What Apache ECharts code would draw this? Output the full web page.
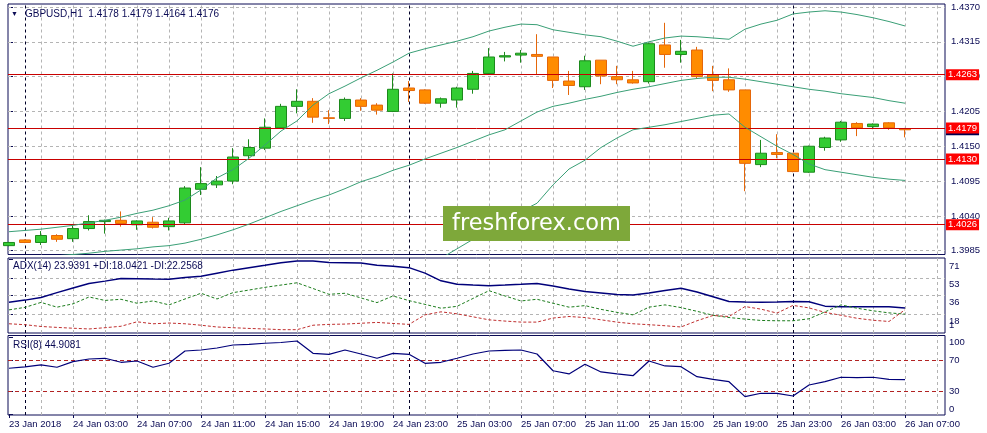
<!DOCTYPE html>
<html><head><meta charset="utf-8">
<script src="https://cdn.jsdelivr.net/npm/echarts@6/dist/echarts.min.js"></script>
<style>html,body{margin:0;padding:0;background:#fff}#c{width:987px;height:433px}</style>
</head><body><div id="c"></div>
<script>
const symbolName = 'GBPUSD,H1';
const xTickIndex = [0,4,8,12,16,20,24,28,32,36,40,44,48,52,56];
const xTickLabels = ['23 Jan 2018','24 Jan 03:00','24 Jan 07:00','24 Jan 11:00','24 Jan 15:00','24 Jan 19:00','24 Jan 23:00','25 Jan 03:00','25 Jan 07:00','25 Jan 11:00','25 Jan 15:00','25 Jan 19:00','25 Jan 23:00','26 Jan 03:00','26 Jan 07:00'];
const separatorIndex = [1,25,49];
const gridXIndex = [2,4,6,8,10,12,14,16,18,20,22,24,26,28,30,32,34,36,38,40,42,44,46,48,50,52,54,56,58];

const opens = [1.3993,1.4002,1.3998,1.4009,1.4004,1.4020,1.4031,1.4033,1.4026,1.4030,
 1.4023,1.4029,1.4082,1.4089,1.4095,1.4135,1.4147,1.4179,1.4213,1.4221,
 1.4195,1.4194,1.4223,1.4215,1.4205,1.4242,1.4239,1.4218,1.4223,1.4240,
 1.4265,1.4291,1.4294,1.4295,1.4291,1.4253,1.4244,1.4286,1.4260,1.4255,
 1.4252,1.4310,1.4295,1.4302,1.4263,1.4255,1.4239,1.4121,1.4140,1.4139,
 1.4109,1.4148,1.4160,1.4186,1.4181,1.4187,1.4178];
const closes = [1.3998,1.3998,1.4009,1.4003,1.4020,1.4031,1.4033,1.4028,1.4032,1.4022,
 1.4032,1.4084,1.4091,1.4095,1.4133,1.4148,1.4180,1.4213,1.4221,1.4196,
 1.4194,1.4224,1.4213,1.4207,1.4240,1.4238,1.4218,1.4225,1.4242,1.4265,
 1.4291,1.4293,1.4297,1.4292,1.4254,1.4246,1.4285,1.4261,1.4255,1.4250,
 1.4312,1.4295,1.4300,1.4260,1.4254,1.4239,1.4123,1.4139,1.4137,1.4110,
 1.4150,1.4163,1.4188,1.4179,1.4185,1.4179,1.4176];
const lows = [1.3992,1.3997,1.3994,1.3999,1.3999,1.4017,1.4012,1.4023,1.4018,1.4020,
 1.4017,1.4026,1.4073,1.4084,1.4090,1.4130,1.4144,1.4178,1.4202,1.4187,
 1.4185,1.4190,1.4206,1.4200,1.4204,1.4220,1.4217,1.4211,1.4211,1.4233,
 1.4264,1.4284,1.4282,1.4264,1.4242,1.4231,1.4239,1.4248,1.4248,1.4249,
 1.4249,1.4274,1.4282,1.4257,1.4237,1.4236,1.4079,1.4117,1.4131,1.4109,
 1.4108,1.4143,1.4157,1.4166,1.4177,1.4176,1.4164];
const highs = [1.3999,1.4003,1.4016,1.4011,1.4024,1.4041,1.4034,1.4047,1.4033,1.4038,
 1.4037,1.4087,1.4117,1.4103,1.4147,1.4161,1.4194,1.4217,1.4240,1.4226,
 1.4207,1.4227,1.4226,1.4218,1.4265,1.4253,1.4240,1.4227,1.4244,1.4269,
 1.4305,1.4299,1.4302,1.4327,1.4291,1.4269,1.4293,1.4286,1.4277,1.4269,
 1.4314,1.4345,1.4318,1.4307,1.4277,1.4273,1.4239,1.4160,1.4169,1.4139,
 1.4151,1.4165,1.4190,1.4188,1.4186,1.4188,1.4179];

const bbUpper = [1.4015,1.4017,1.4019,1.4022,1.4025,1.4029,1.4033,1.4038,1.4044,1.4049,
 1.4056,1.4065,1.4081,1.4100,1.4113,1.4131,1.4152,1.4174,1.4190,1.4215,
 1.4233,1.4245,1.4258,1.4270,1.4283,1.4297,1.4304,1.4310,1.4316,1.4323,
 1.4332,1.4338,1.4343,1.4342,1.4334,1.4330,1.4326,1.4323,1.4316,1.4308,
 1.4315,1.4321,1.4324,1.4323,1.4321,1.4319,1.4335,1.4343,1.4349,1.4359,
 1.4362,1.4364,1.4362,1.4358,1.4353,1.4347,1.4340];
const bbMiddle = [1.3972,1.3973,1.3975,1.3977,1.3979,1.3981,1.3984,1.3986,1.3988,1.3991,
 1.3993,1.3997,1.4003,1.4010,1.4018,1.4027,1.4037,1.4047,1.4056,1.4065,
 1.4073,1.4083,1.4094,1.4102,1.4112,1.4120,1.4130,1.4139,1.4148,1.4158,
 1.4168,1.4176,1.4190,1.4204,1.4213,1.4218,1.4224,1.4229,1.4235,1.4240,
 1.4244,1.4249,1.4254,1.4257,1.4259,1.4259,1.4256,1.4252,1.4248,1.4244,
 1.4240,1.4237,1.4233,1.4230,1.4227,1.4222,1.4218];
const bbLower = [null,null,null,null,null,null,null,null,null,null,
 null,null,null,null,null,null,null,null,null,null,
 null,null,null,null,null,null,1.3958,1.3973,1.3988,1.4003,
 1.4018,1.4033,1.4047,1.4060,1.4089,1.4114,1.4128,1.4148,1.4163,1.4176,
 1.4180,1.4184,1.4189,1.4194,1.4199,1.4201,1.4180,1.4165,1.4150,1.4137,
 1.4122,1.4113,1.4109,1.4105,1.4101,1.4098,1.4096];

const adx = [29.5,31.5,34.1,38.7,43.2,47.5,49.8,52.4,52.2,51.8,
 51.5,53.2,54.6,57.5,60.4,62.8,65.1,67.5,69.3,69.3,
 67.7,67.5,67.3,65.1,64.2,62.8,57.5,50.1,46.7,46.0,
 45.4,46.0,46.7,47.6,45.1,42.2,39.8,38.4,36.9,36.5,
 38.4,40.8,42.9,39.3,34.8,30.2,29.8,29.5,29.8,30.2,
 30.0,25.7,25.2,25.0,25.0,25.0,23.9391];
const plusDI = [22.1,24.5,29.3,24.7,27.9,34.5,31.2,32.3,28.5,30.7,
 26.9,32.6,38.1,32.6,38.7,41.2,43.8,46.0,48.2,42.7,
 37.1,38.1,33.6,29.1,35.5,31.0,27.4,23.7,25.5,33.1,
 40.6,35.5,30.7,32.3,28.5,24.7,26.2,22.6,19.7,17.3,
 24.7,26.9,24.3,20.7,16.9,14.7,13.2,11.9,11.6,11.6,
 13.5,20.2,26.9,23.7,21.2,19.2,18.0421];
const minusDI = [8.7,7.8,6.1,5.2,4.4,3.7,4.9,6.3,10.6,8.7,
 9.4,8.7,7.3,5.6,4.9,4.2,3.7,3.0,3.0,7.3,
 8.1,8.4,9.2,10.0,9.0,8.1,17.3,20.2,18.3,15.4,
 12.5,11.3,10.3,10.3,14.2,15.7,14.7,12.5,10.3,8.7,
 7.8,6.8,5.6,11.6,16.7,15.7,25.3,22.8,19.0,26.4,
 24.0,19.7,16.9,14.0,12.1,10.9,22.2568];
const rsi = [59.6,61.5,63.9,60.9,68.2,71.7,72.6,67.4,69.1,60.9,
 66.1,82.1,83.4,86.0,89.9,90.8,92.2,93.2,95.1,79.1,
 77.8,83.4,78.2,72.6,79.1,77.8,66.1,67.4,72.6,78.2,
 82.1,82.8,83.4,78.2,56.4,52.2,64.8,54.8,52.2,49.9,
 69.1,62.6,61.7,48.6,45.2,42.1,22.6,27.0,27.0,23.5,
 37.8,42.1,47.9,47.3,47.9,45.2,44.9081];

const priceTicks = [1.3985,1.4040,1.4095,1.4150,1.4205,1.4260,1.4315,1.4370];
const priceLevels = [1.4263,1.4179,1.4130,1.4026];
const adxTicks = [18,36,53,71];
const adxMinTick = [1];
const adxGridLevels = [18,36,53];
const rsiTicks = [0,30,70,100];
const rsiLevels = [30,70];

const NAVY = '#0b0b55';
const FONT = 'Liberation Sans';
const last = opens.length - 1;
const bidPrice = closes[last];

const chart = echarts.init(document.getElementById('c'), null, {renderer:'canvas'});
const xy = arr => arr.map((v,i) => [i, v]);
const dash = {color:'#b4b4b4', type:[3,3], width:1};
const sepStyle = {color:'#000028', type:[3,3], width:1};

function gridSeries(k, hVals) {
  const data = [];
  hVals.forEach(v => data.push({yAxis:v, lineStyle:dash}));
  gridXIndex.forEach(v => data.push({xAxis:v, lineStyle:dash}));
  separatorIndex.forEach(v => data.push({xAxis:v, lineStyle:sepStyle}));
  return {type:'line', xAxisIndex:k, yAxisIndex:k, data:[], z:1, silent:true,
    markLine:{silent:true, animation:false, precision:6, symbol:['none','none'], label:{show:false}, z:1, data}};
}

function xAxisDef(k, showLabels) {
  return {type:'value', gridIndex:k, min:-0.0625, max:58.5,
    axisLine:{show:false}, splitLine:{show:false},
    axisTick:{show:showLabels, customValues:xTickIndex, length:4, lineStyle:{color:NAVY}},
    axisLabel:{show:showLabels, customValues:xTickIndex, align:'left', margin:4,
      fontFamily:FONT, fontSize:9.5, color:NAVY,
      formatter: v => { const k2 = xTickIndex.indexOf(Math.round(v)); return k2 >= 0 ? xTickLabels[k2] : ''; }}};
}

const richBase = {fontFamily:FONT, fontSize:9.5, color:NAVY};

const option = {
  animation:false,
  backgroundColor:'#ffffff',
  grid:[
    {left:8, top:4, width:937, height:250.5, show:true, borderColor:NAVY, borderWidth:1, backgroundColor:'#fff'},
    {left:8, top:258, width:937, height:75, show:true, borderColor:NAVY, borderWidth:1, backgroundColor:'#fff'},
    {left:8, top:335.5, width:937, height:79.5, show:true, borderColor:NAVY, borderWidth:1, backgroundColor:'#fff'}
  ],
  xAxis:[xAxisDef(0,false), xAxisDef(1,false), xAxisDef(2,true)],
  yAxis:[
    {type:'value', gridIndex:0, position:'right', min:1.3979, max:1.43747,
      axisLine:{show:false}, splitLine:{show:false},
      axisTick:{show:true, customValues:priceTicks, length:4, lineStyle:{color:NAVY}},
      axisLabel:{customValues:priceTicks, margin:6, hideOverlap:false, showMinLabel:true, showMaxLabel:true,
        fontFamily:FONT, fontSize:9.5, color:NAVY, formatter: v => Number(v).toFixed(4)}},
    {type:'value', gridIndex:1, position:'right', min:-0.2, max:72.1,
      axisLine:{show:false}, splitLine:{show:false},
      axisTick:{show:true, customValues:adxTicks, length:4, lineStyle:{color:NAVY}},
      axisLabel:{customValues:adxTicks, margin:4, hideOverlap:false, showMinLabel:true, showMaxLabel:true,
        fontFamily:FONT, fontSize:9.5, color:NAVY,
        formatter: v => '{hi|' + v + '}',
        rich:{hi:Object.assign({padding:[14,0,0,0]}, richBase)}}},
    {type:'value', gridIndex:2, position:'right', min:-1.3, max:102.3,
      axisLine:{show:false}, splitLine:{show:false},
      axisTick:{show:true, customValues:rsiTicks, length:4, lineStyle:{color:NAVY}},
      axisLabel:{customValues:rsiTicks, margin:4, hideOverlap:false, showMinLabel:true, showMaxLabel:true,
        fontFamily:FONT, fontSize:9.5, color:NAVY,
        formatter: v => v === 100 ? '{d|100}' : (v === 0 ? '{u|0}' : '{n|' + v + '}'),
        rich:{d:Object.assign({padding:[10,0,0,0]}, richBase), u:Object.assign({padding:[0,0,10,0]}, richBase), n:richBase}}},
    {type:'value', gridIndex:1, position:'right', min:-0.2, max:72.1,
      axisLine:{show:false}, splitLine:{show:false},
      axisTick:{show:false, customValues:adxMinTick},
      axisLabel:{customValues:adxMinTick, margin:4, showMinLabel:true, showMaxLabel:true,
        fontFamily:FONT, fontSize:9.5, color:NAVY,
        formatter: v => '{lo|' + v + '}',
        rich:{lo:Object.assign({padding:[0,0,12,0]}, richBase)}}}
  ],
  series:[
    gridSeries(0, priceTicks),
    gridSeries(1, adxGridLevels),
    gridSeries(2, []),
    {type:'candlestick', xAxisIndex:0, yAxisIndex:0, z:3, clip:true, barWidth:11,
      data: opens.map((o,i) => [i, o, closes[i], lows[i], highs[i]]),
      itemStyle:{color:'#33cc33', color0:'#ff8c00', borderColor:'#1c8a1c', borderColor0:'#e5670a', borderWidth:1}},
    {type:'line', name:'bid', xAxisIndex:0, yAxisIndex:0, data:[], z:4, silent:true,
      markLine:{silent:true, animation:false, precision:4, symbol:['none','none'], z:4,
        lineStyle:{color:'rgba(0,0,0,0)', width:0.1},
        label:{show:true, position:'end', distance:1, fontFamily:FONT, fontSize:9.5, color:'#fff',
          padding:[1,2,0,2], backgroundColor:'#000050', formatter: p => Number(p.value).toFixed(4)},
        data:[{yAxis:bidPrice}]}},
    {type:'line', name:'levels', xAxisIndex:0, yAxisIndex:0, data:[], z:4, silent:true,
      markLine:{silent:true, animation:false, precision:4, symbol:['none','none'], z:4,
        lineStyle:{color:'#c80000', width:1, type:'solid'},
        label:{show:true, position:'end', distance:1, fontFamily:FONT, fontSize:9.5, color:'#fff',
          padding:[1,2,0,2], backgroundColor:'#ff0000', formatter: p => Number(p.value).toFixed(4)},
        data: priceLevels.map(v => ({yAxis:v}))}},
    {type:'line', name:'BB upper', xAxisIndex:0, yAxisIndex:0, z:5, data:xy(bbUpper), showSymbol:false, symbol:'none', lineStyle:{color:'#3a9f76', width:1}},
    {type:'line', name:'BB middle', xAxisIndex:0, yAxisIndex:0, z:5, data:xy(bbMiddle), showSymbol:false, symbol:'none', lineStyle:{color:'#3a9f76', width:1}},
    {type:'line', name:'BB lower', xAxisIndex:0, yAxisIndex:0, z:5, data:xy(bbLower), showSymbol:false, symbol:'none', connectNulls:false, lineStyle:{color:'#3a9f76', width:1}},
    {type:'line', name:'ADX', xAxisIndex:1, yAxisIndex:1, z:5, data:xy(adx), showSymbol:false, symbol:'none', lineStyle:{color:'#00007a', width:1.5}},
    {type:'line', name:'+DI', xAxisIndex:1, yAxisIndex:1, z:5, data:xy(plusDI), showSymbol:false, symbol:'none', lineStyle:{color:'#1d7d1d', width:1, type:[3,2]}},
    {type:'line', name:'-DI', xAxisIndex:1, yAxisIndex:1, z:5, data:xy(minusDI), showSymbol:false, symbol:'none', lineStyle:{color:'#c03030', width:1, type:[3,2]}},
    {type:'line', name:'RSI', xAxisIndex:2, yAxisIndex:2, z:5, data:xy(rsi), showSymbol:false, symbol:'none', lineStyle:{color:'#00007a', width:1.2},
      markLine:{silent:true, animation:false, precision:4, symbol:['none','none'], label:{show:false}, z:2,
        data: rsiLevels.map(v => ({yAxis:v, lineStyle:{color:'#b22222', type:[4,3], width:1}}))}}
  ],
  graphic:[
    {type:'text', x:11, y:14, z:50, style:{text:'\u25BC', fontSize:7, fill:NAVY, verticalAlign:'middle'}},
    {type:'text', x:25, y:14, z:50, style:{text: symbolName + '  ' + [opens[last], highs[last], lows[last], closes[last]].map(v => v.toFixed(4)).join(' '),
      fontFamily:FONT, fontSize:10, fill:NAVY, verticalAlign:'middle'}},
    {type:'text', x:13, y:266, z:50, style:{text:'ADX(14) ' + adx[last].toFixed(4) + ' +DI:' + plusDI[last].toFixed(4) + ' -DI:' + minusDI[last].toFixed(4),
      fontFamily:FONT, fontSize:10, fill:NAVY, verticalAlign:'middle'}},
    {type:'text', x:13, y:345, z:50, style:{text:'RSI(8) ' + rsi[last].toFixed(4),
      fontFamily:FONT, fontSize:10, fill:NAVY, verticalAlign:'middle'}},
    {type:'rect', z:100, shape:{x:443, y:206, width:187, height:35}, style:{fill:'#7ea83a'}},
    {type:'text', z:101, x:536.5, y:224, style:{text:'freshforex.com', fill:'#ffffff', fontFamily:'DejaVu Sans', fontSize:22.5, align:'center', verticalAlign:'middle'}}
  ]
};
chart.setOption(option);
</script>
</body></html>
